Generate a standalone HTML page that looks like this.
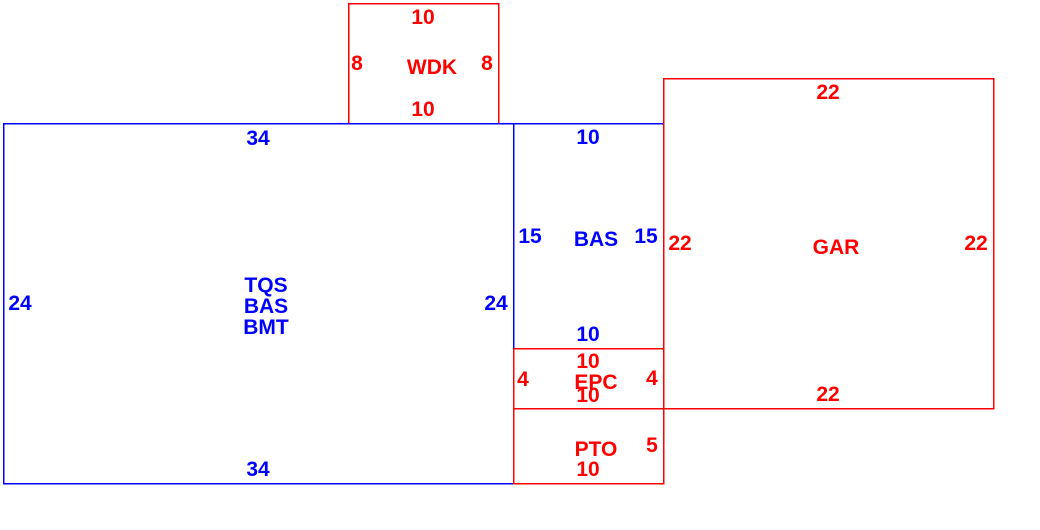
<!DOCTYPE html>
<html><head><meta charset="utf-8"><style>
html,body{margin:0;padding:0;background:#fff;}
svg{display:block;}
text{font-family:"Liberation Sans",sans-serif;font-weight:bold;font-size:21px;text-anchor:middle;}
.r{fill:#ff0000;} .b{fill:#0000ff;}
</style></head><body>
<svg width="1040" height="530" viewBox="0 0 1040 530">
<g fill="none" stroke-width="1.5" shape-rendering="crispEdges">
<rect x="348.5" y="3.5" width="150" height="120" stroke="#ff0000"/>
<rect x="3.5" y="123.5" width="510" height="360" stroke="#0000ff"/>
<rect x="513.5" y="123.5" width="150" height="225" stroke="#0000ff"/>
<rect x="513.5" y="348.5" width="150" height="60" stroke="#ff0000"/>
<rect x="513.5" y="408.5" width="150" height="75" stroke="#ff0000"/>
<rect x="663.5" y="78.5" width="330" height="330" stroke="#ff0000"/>
</g>
<g class="r">
<text x="423" y="24">10</text>
<text x="357" y="70">8</text>
<text x="432" y="74">WDK</text>
<text x="487" y="70">8</text>
<text x="423" y="116">10</text>
</g>
<g class="b">
<text x="258" y="145">34</text>
<text x="20" y="310">24</text>
<text x="266" y="292">TQS</text>
<text x="266" y="313">BAS</text>
<text x="266" y="334">BMT</text>
<text x="496" y="310">24</text>
<text x="258" y="476">34</text>
<text x="588" y="144">10</text>
<text x="530" y="243">15</text>
<text x="596" y="246">BAS</text>
<text x="646" y="243">15</text>
<text x="588" y="341">10</text>
</g>
<g class="r">
<text x="588" y="368">10</text>
<text x="523" y="386">4</text>
<text x="596" y="389">EPC</text>
<text x="652" y="385">4</text>
<text x="588" y="402">10</text>
<text x="596" y="456">PTO</text>
<text x="652" y="452">5</text>
<text x="588" y="476">10</text>
<text x="828" y="99">22</text>
<text x="680" y="250">22</text>
<text x="836" y="254">GAR</text>
<text x="976" y="250">22</text>
<text x="828" y="401">22</text>
</g>
</svg>
</body></html>
